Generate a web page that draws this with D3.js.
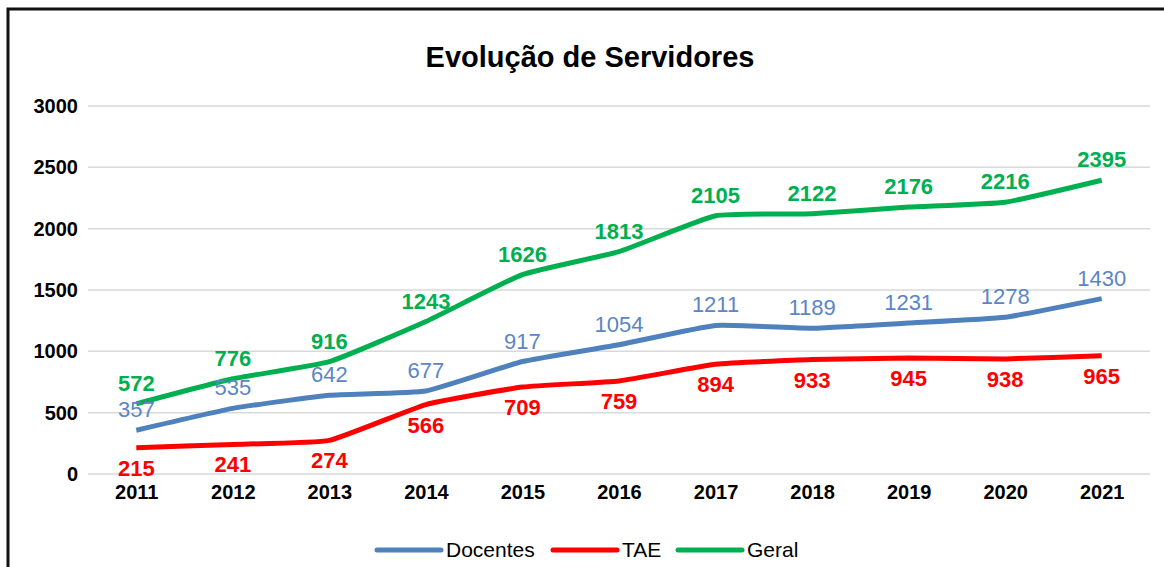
<!DOCTYPE html>
<html lang="pt">
<head>
<meta charset="UTF-8">
<title>Evolução de Servidores</title>
<script src="https://d3js.org/d3.v7.min.js"></script>
<style>
  body { margin: 0; background: #fff; }
  text { font-family: "Liberation Sans", Arial, sans-serif; }
</style>
</head>
<body>
<svg class="chart"></svg>
<script>
const years = ['2011','2012','2013','2014','2015','2016','2017','2018','2019','2020','2021']
const docentes = [357, 535, 642, 677, 917, 1054, 1211, 1189, 1231, 1278, 1430]
const tae = [215, 241, 274, 566, 709, 759, 894, 933, 945, 938, 965]
const geral = [572, 776, 916, 1243, 1626, 1813, 2105, 2122, 2176, 2216, 2395]
const yTicks = [0, 500, 1000, 1500, 2000, 2500, 3000]

const series = [
  { name: 'Docentes', values: docentes, color: '#4F81BD', label: '#5B86C6', weight: 'normal', dy: -13 },
  { name: 'TAE', values: tae, color: '#FF0000', label: '#FF0000', weight: 'bold', dy: 28 },
  { name: 'Geral', values: geral, color: '#00B050', label: '#00B050', weight: 'bold', dy: -13 }
]

const W = 1164, H = 567
const svg = d3.select('.chart').attr('width', W).attr('height', H)

// frame (right & bottom edges fall outside the picture)
svg.append('rect')
  .attr('x', 8).attr('y', 9).attr('width', 1170).attr('height', 600)
  .attr('fill', 'none').attr('stroke', '#111').attr('stroke-width', 3)

svg.append('text')
  .attr('x', 590).attr('y', 67)
  .attr('text-anchor', 'middle')
  .attr('font-size', 29).attr('font-weight', 'bold')
  .text('Evolução de Servidores')

const x = d3.scalePoint().domain(years).range([88, 1150]).padding(0.5)
const y = d3.scaleLinear().domain([0, 3000]).range([474, 106])

// gridlines
svg.append('g').selectAll('line').data(yTicks).join('line')
  .attr('x1', 88).attr('x2', 1150)
  .attr('y1', d => y(d)).attr('y2', d => y(d))
  .attr('stroke', '#d9d9d9').attr('stroke-width', 1.5)

const yAxis = svg.append('g').attr('transform', 'translate(88,0)')
  .call(d3.axisLeft(y).tickValues(yTicks).tickFormat(d3.format('d')).tickSize(0).tickPadding(10))
yAxis.select('.domain').remove()
yAxis.selectAll('text').attr('font-size', 20).attr('font-weight', 'bold').attr('fill', '#000')
  .style('font-family', '"Liberation Sans", Arial, sans-serif')

const xAxis = svg.append('g').attr('transform', 'translate(0,474)')
  .call(d3.axisBottom(x).tickSize(0).tickPadding(11))
xAxis.select('.domain').remove()
xAxis.selectAll('text').attr('font-size', 20).attr('font-weight', 'bold').attr('fill', '#000')
  .style('font-family', '"Liberation Sans", Arial, sans-serif')

const line = d3.line()
  .x((d, i) => x(years[i]))
  .y(d => y(d))
  .curve(d3.curveCardinal.tension(0.6))

series.forEach(s => {
  svg.append('path')
    .datum(s.values)
    .attr('d', line)
    .attr('fill', 'none')
    .attr('stroke', s.color)
    .attr('stroke-width', 5)
    .attr('stroke-linejoin', 'round')
})

series.forEach(s => {
  svg.append('g').selectAll('text').data(s.values).join('text')
    .attr('x', (d, i) => x(years[i]))
    .attr('y', d => y(d) + s.dy)
    .attr('text-anchor', 'middle')
    .attr('font-size', 22)
    .attr('font-weight', s.weight)
    .attr('fill', s.label)
    .text(d => d)
})

// legend
const legendX = [377, 553, 678]
const legend = svg.append('g')
series.forEach((s, i) => {
  legend.append('line')
    .attr('x1', legendX[i]).attr('x2', legendX[i] + 64)
    .attr('y1', 550).attr('y2', 550)
    .attr('stroke', s.color).attr('stroke-width', 5).attr('stroke-linecap', 'round')
  legend.append('text')
    .attr('x', legendX[i] + 69).attr('y', 557)
    .attr('font-size', 21)
    .attr('fill', '#000')
    .text(s.name)
})
</script>
</body>
</html>
